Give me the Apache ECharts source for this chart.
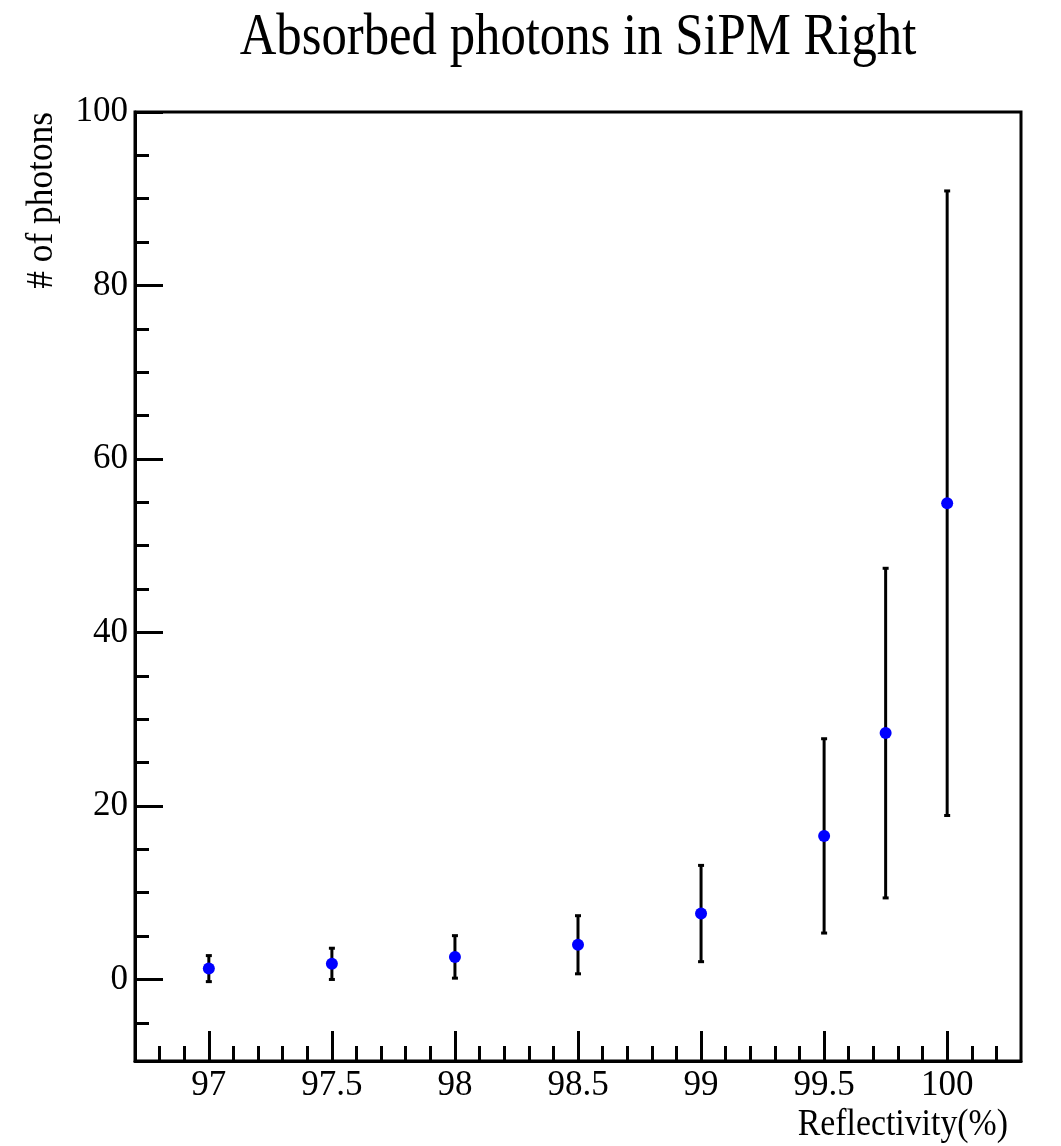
<!DOCTYPE html>
<html>
<head>
<meta charset="utf-8">
<script src="https://cdn.jsdelivr.net/npm/echarts@6/dist/echarts.min.js"></script>
<style>
  html, body { margin: 0; padding: 0; background: #fff; }
  #chart { width: 1061px; height: 1146px; }
</style>
</head>
<body>
<div id="chart"></div>
<script>
// measured points
var reflectivity = [97, 97.5, 98, 98.5, 99, 99.5, 99.75, 100]
var photons = [1.25, 1.8, 2.6, 4.0, 7.6, 16.55, 28.4, 54.9]
var photonErr = [1.5, 1.8, 2.45, 3.35, 5.55, 11.2, 19.0, 36.0]

// tick labels / positions
var xMajor = [97, 97.5, 98, 98.5, 99, 99.5, 100]
var xMinor = [96.8, 96.9, 97.1, 97.2, 97.3, 97.4, 97.6, 97.7, 97.8, 97.9,
  98.1, 98.2, 98.3, 98.4, 98.6, 98.7, 98.8, 98.9, 99.1, 99.2, 99.3, 99.4,
  99.6, 99.7, 99.8, 99.9, 100.1, 100.2]
var yMajor = [0, 20, 40, 60, 80, 100]
var yMinor = [-5, 5, 10, 15, 25, 30, 35, 45, 50, 55, 65, 70, 75, 85, 90, 95]

var FONT = 'Liberation Serif'

var points = reflectivity.map(function (x, i) { return [x, photons[i]] })
var bars = reflectivity.map(function (x, i) {
  return [x, photons[i] - photonErr[i], photons[i] + photonErr[i]]
})

function tickAxis (min, max, values, len, withLabels, extra) {
  var ax = {
    type: 'value',
    min: min,
    max: max,
    splitLine: { show: false },
    axisLine: { show: withLabels, onZero: false, lineStyle: { color: '#000', width: 3 } },
    axisTick: {
      show: true,
      inside: true,
      length: len,
      customValues: values,
      lineStyle: { color: '#000', width: 3 }
    },
    axisLabel: withLabels ? {
      show: true,
      customValues: values,
      color: '#000',
      fontFamily: FONT,
      fontSize: 35,
      margin: 7
    } : { show: false }
  }
  for (var k in extra) ax[k] = extra[k]
  return ax
}

// ROOT's Times looks narrower than Liberation Serif, squeeze the big texts a bit
function label (text, x, y, size, sx, rot, align) {
  return {
    type: 'text',
    x: x,
    y: y,
    rotation: rot,
    scaleX: sx,
    style: {
      text: text,
      fontFamily: FONT,
      fontSize: size,
      fill: '#000',
      align: align,
      verticalAlign: 'middle'
    }
  }
}

var chart = echarts.init(document.getElementById('chart'))

var option = {
  animation: false,
  backgroundColor: '#fff',
  grid: {
    left: 135,
    right: 40,
    top: 112,
    bottom: 85,
    show: true,
    borderColor: '#000',
    borderWidth: 3,
    outerBoundsMode: 'none'
  },
  xAxis: [
    tickAxis(96.7, 100.3, xMajor, 30, true, { position: 'bottom' }),
    tickAxis(96.7, 100.3, xMinor, 15, false, { position: 'bottom' })
  ],
  yAxis: [
    tickAxis(-9.4, 100, yMajor, 28, true, { position: 'left' }),
    tickAxis(-9.4, 100, yMinor, 14, false, { position: 'left' })
  ],
  graphic: [
    label('Absorbed photons in SiPM Right', 578, 38, 59, 0.86, 0, 'center'),
    label('# of photons', 42, 112, 38, 0.93, Math.PI / 2, 'right'),
    label('Reflectivity(%)', 1008, 1125, 38, 0.89, 0, 'right')
  ],
  series: [
    {
      type: 'custom',
      xAxisIndex: 0,
      yAxisIndex: 0,
      data: bars,
      renderItem: function (params, api) {
        var top = api.coord([api.value(0), api.value(2)])
        var bot = api.coord([api.value(0), api.value(1)])
        var style = { stroke: '#000', lineWidth: 3 }
        return {
          type: 'group',
          children: [
            { type: 'line', shape: { x1: top[0], y1: top[1], x2: bot[0], y2: bot[1] }, style: style },
            { type: 'line', shape: { x1: top[0] - 3, y1: top[1], x2: top[0] + 3, y2: top[1] }, style: style },
            { type: 'line', shape: { x1: bot[0] - 3, y1: bot[1], x2: bot[0] + 3, y2: bot[1] }, style: style }
          ]
        }
      },
      z: 2
    },
    {
      type: 'scatter',
      xAxisIndex: 0,
      yAxisIndex: 0,
      data: points,
      symbol: 'circle',
      symbolSize: 12,
      itemStyle: { color: '#0000ff', opacity: 1 },
      z: 3
    }
  ]
}

chart.setOption(option)
</script>
</body>
</html>
